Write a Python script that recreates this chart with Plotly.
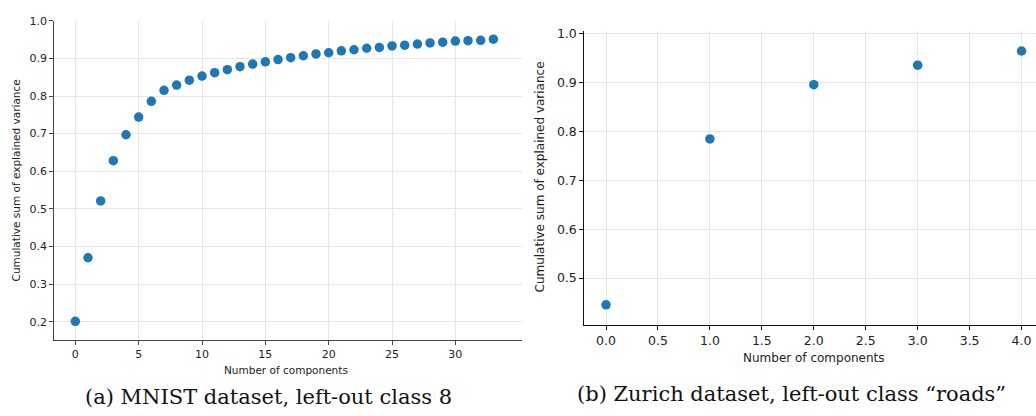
import plotly.graph_objects as go

# Data
mnist_components = list(range(34))
mnist_cumvar = [0.201, 0.370, 0.521, 0.628, 0.697, 0.744, 0.786, 0.815, 0.829, 0.842,
                0.853, 0.862, 0.870, 0.878, 0.885, 0.891, 0.897, 0.902, 0.907, 0.912,
                0.915, 0.920, 0.923, 0.927, 0.929, 0.933, 0.935, 0.938, 0.941, 0.943,
                0.946, 0.947, 0.948, 0.951]
zurich_components = [0, 1, 2, 3, 4]
zurich_cumvar = [0.445, 0.785, 0.896, 0.936, 0.965]

left_xticks = [0, 5, 10, 15, 20, 25, 30]
left_yticks = [0.2, 0.3, 0.4, 0.5, 0.6, 0.7, 0.8, 0.9, 1.0]
right_xticks = [0.0, 0.5, 1.0, 1.5, 2.0, 2.5, 3.0, 3.5, 4.0]
right_yticks = [0.5, 0.6, 0.7, 0.8, 0.9, 1.0]

x_label = "Number of components"
y_label = "Cumulative sum of explained variance"
caption_a = "(a) MNIST dataset, left-out class 8"
caption_b = "(b) Zurich dataset, left-out class \u201croads\u201d"

W, H = 1036, 416
def px(x):
    return x / W
def py(y):
    return 1 - y / H

BLUE = "#1f77b4"
SANS = "DejaVu Sans"
SERIF = "DejaVu Serif"

fig = go.Figure()
fig.add_trace(go.Scatter(x=mnist_components, y=mnist_cumvar, mode="markers",
                         marker=dict(color=BLUE, size=9.5, line=dict(width=0)),
                         xaxis="x", yaxis="y", showlegend=False))
fig.add_trace(go.Scatter(x=zurich_components, y=zurich_cumvar, mode="markers",
                         marker=dict(color=BLUE, size=9.5, line=dict(width=0)),
                         xaxis="x2", yaxis="y2", showlegend=False))

common = dict(showgrid=True, gridcolor="#e6e6e6", gridwidth=1, zeroline=False,
              showline=True, ticks="outside", ticklen=4, tickwidth=1,
              mirror=False)

fig.update_layout(
    width=W, height=H, margin=dict(l=0, r=0, t=0, b=0),
    paper_bgcolor="white", plot_bgcolor="white",
    xaxis=dict(domain=[px(54.3), px(522)], range=[-1.66, 35.26], anchor="y",
               tickvals=left_xticks, linecolor="#444", tickcolor="#444",
               tickfont=dict(family=SANS, size=11, color="#222"), **common),
    yaxis=dict(domain=[py(339), py(15)], range=[0.151, 1.0], anchor="x",
               tickvals=left_yticks, tickformat=".1f", linecolor="#444", tickcolor="#444",
               tickfont=dict(family=SANS, size=11, color="#222"), **common),
    xaxis2=dict(domain=[px(584.3), 1.0], range=[-0.209, 4.139], anchor="y2",
                tickvals=right_xticks, tickformat=".1f", linecolor="#111", tickcolor="#111",
                tickfont=dict(family=SANS, size=12.5, color="#222"), **common),
    yaxis2=dict(domain=[py(323.3), py(25)], range=[0.4045, 1.0067], anchor="x2",
                tickvals=right_yticks, tickformat=".1f", linecolor="#111", tickcolor="#111",
                tickfont=dict(family=SANS, size=12.5, color="#222"), **common),
)

annotations = [
    dict(text=x_label, x=px(286), y=py(369), xref="paper", yref="paper",
         showarrow=False, font=dict(family=SANS, size=10.5, color="#222"),
         xanchor="center", yanchor="middle"),
    dict(text=y_label, x=px(16), y=py(177), xref="paper", yref="paper",
         showarrow=False, textangle=-90, font=dict(family=SANS, size=10.5, color="#222"),
         xanchor="center", yanchor="middle"),
    dict(text=x_label, x=px(814), y=py(357), xref="paper", yref="paper",
         showarrow=False, font=dict(family=SANS, size=12, color="#222"),
         xanchor="center", yanchor="middle"),
    dict(text=y_label, x=px(540), y=py(174), xref="paper", yref="paper",
         showarrow=False, textangle=-90, font=dict(family=SANS, size=12, color="#222"),
         xanchor="center", yanchor="middle"),
    dict(text=caption_a, x=px(268), y=py(397), xref="paper", yref="paper",
         showarrow=False, font=dict(family=SERIF, size=21, color="#111"),
         xanchor="center", yanchor="middle"),
    dict(text=caption_b, x=px(791), y=py(394), xref="paper", yref="paper",
         showarrow=False, font=dict(family=SERIF, size=21, color="#111"),
         xanchor="center", yanchor="middle"),
]
fig.update_layout(annotations=annotations)

fig.write_html("out.html")
